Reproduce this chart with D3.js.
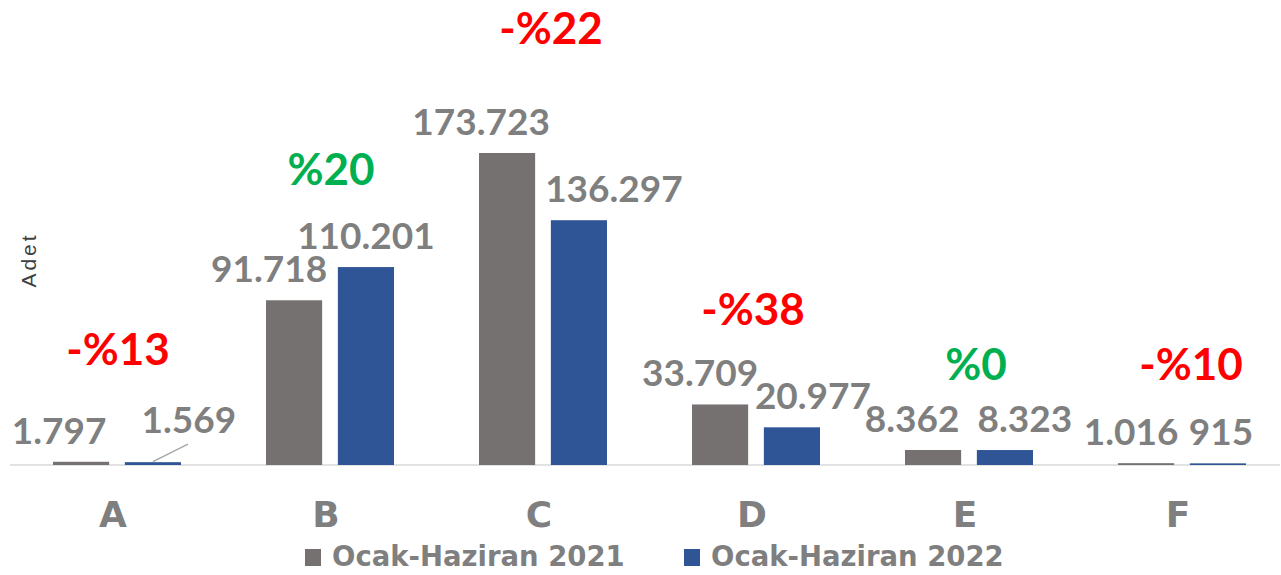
<!DOCTYPE html>
<html>
<head>
<meta charset="utf-8">
<script src="https://cdn.jsdelivr.net/npm/d3@7"></script>
<style>
  body { margin: 0; background: #fff; }
  svg { display: block; }
</style>
</head>
<body>
<div id="graph"></div>
<script>
var categories = ["A", "B", "C", "D", "E", "F"];
var seriesNames = ["Ocak-Haziran 2021", "Ocak-Haziran 2022"];
var values2021 = [1797, 91718, 173723, 33709, 8362, 1016];
var values2022 = [1569, 110201, 136297, 20977, 8323, 915];
var changeLabels = ["-%13", "%20", "-%22", "-%38", "%0", "-%10"];
var changeValues = [-13, 20, -22, -38, 0, -10];
// where each change label sits, in data units (same scale as the bars)
var changeLevels = [55700, 155900, 234400, 77950, 47300, 47300];
// label nudges so overlapping value labels stay readable (px)
var nudge2021 = [-22, -25, -26, -20, -21, -15];
var nudge2022 = [36, 0, 35, 21, 20, 3];
var changeNudge = [1, 1, 8, -3, 7, 9];

var width = 1281, height = 575;
var font = "'Century Gothic', Lato, 'DejaVu Sans', sans-serif";
var wideFont = "'Century Gothic', 'DejaVu Sans', sans-serif";
var colors = ["#767171", "#2F5597"];
var labelGray = "#7F7F7F";

var svg = d3.select("#graph")
    .append("svg")
    .attr("width", width)
    .attr("height", height);

var x = d3.scaleBand()
    .domain(categories)
    .range([10.5, 1288.5]);

var x1 = d3.scaleBand()
    .domain([0, 1])
    .range([42.5, x.bandwidth() - 42.5])
    .paddingInner(14 / 64);

var y = d3.scaleLinear()
    .domain([0, 200000])
    .range([465, 465 - 359.2]);

var series = [values2021, values2022];
var nudges = [nudge2021, nudge2022];

// axis baseline
svg.append("line")
    .attr("x1", 10).attr("x2", 1280)
    .attr("y1", y(0)).attr("y2", y(0))
    .attr("stroke", "#D9D9D9")
    .attr("stroke-width", 1.3);

var groups = svg.selectAll(".cat")
    .data(categories)
    .enter()
    .append("g")
    .attr("class", "cat")
    .attr("transform", function(d) { return "translate(" + x(d) + ",0)"; });

series.forEach(function(vals, s) {
    groups.append("rect")
        .attr("x", x1(s))
        .attr("width", x1.bandwidth())
        .attr("y", function(d, i) { return y(vals[i]); })
        .attr("height", function(d, i) { return y(0) - y(vals[i]); })
        .attr("fill", colors[s]);

    groups.append("text")
        .attr("x", function(d, i) { return x1(s) + x1.bandwidth() / 2 + nudges[s][i]; })
        .attr("y", function(d, i) { return y(vals[i]) - (s === 1 && i === 0 ? 29 : 18); })
        .attr("text-anchor", "middle")
        .attr("font-family", font)
        .attr("font-weight", "bold")
        .attr("font-size", 37)
        .attr("fill", labelGray)
        .text(function(d, i) { return d3.format(",")(vals[i]).replace(/,/g, "."); });
});

// leader line for the tiny A 2022 label
svg.append("line")
    .attr("x1", x("A") + x1(1) + x1.bandwidth() / 2)
    .attr("y1", y(values2022[0]) - 0.5)
    .attr("x2", x("A") + x1(1) + x1.bandwidth() / 2 + 35)
    .attr("y2", y(values2022[0]) - 18)
    .attr("stroke", "#A6A6A6")
    .attr("stroke-width", 1.3);

// change labels
groups.append("text")
    .attr("x", function(d, i) { return x.bandwidth() / 2 + changeNudge[i]; })
    .attr("y", function(d, i) { return y(changeLevels[i]); })
    .attr("text-anchor", "middle")
    .attr("font-family", font)
    .attr("font-weight", "bold")
    .attr("font-size", 44)
    .attr("fill", function(d, i) { return changeValues[i] < 0 ? "#FF0000" : "#00B050"; })
    .text(function(d, i) { return changeLabels[i]; });

// category axis
var xAxis = svg.append("g")
    .attr("transform", "translate(0," + y(0) + ")")
    .call(d3.axisBottom(x).tickSize(0));
xAxis.select(".domain").remove();
xAxis.selectAll("text")
    .attr("x", -4)
    .attr("y", 62)
    .attr("dy", 0)
    .attr("font-family", wideFont)
    .attr("font-weight", "bold")
    .attr("font-size", 36)
    .attr("fill", labelGray);

// y title
svg.append("text")
    .attr("transform", "translate(36,260) rotate(-90)")
    .attr("text-anchor", "middle")
    .attr("font-family", "'Liberation Sans', Arial, sans-serif")
    .attr("font-size", 21)
    .attr("letter-spacing", 3)
    .attr("fill", "#404040")
    .text("Adet");

// legend
var legendX = [305, 684];
var legend = svg.selectAll(".legend")
    .data(seriesNames)
    .enter()
    .append("g")
    .attr("class", "legend")
    .attr("transform", function(d, i) { return "translate(" + legendX[i] + ",549)"; });

legend.append("rect")
    .attr("width", 16).attr("height", 17)
    .attr("fill", function(d, i) { return colors[i]; });

legend.append("text")
    .attr("x", 27)
    .attr("y", 17)
    .attr("font-family", wideFont)
    .attr("font-weight", "bold")
    .attr("font-size", 27.5)
    .attr("fill", labelGray)
    .text(function(d) { return d; });
</script>
</body>
</html>
